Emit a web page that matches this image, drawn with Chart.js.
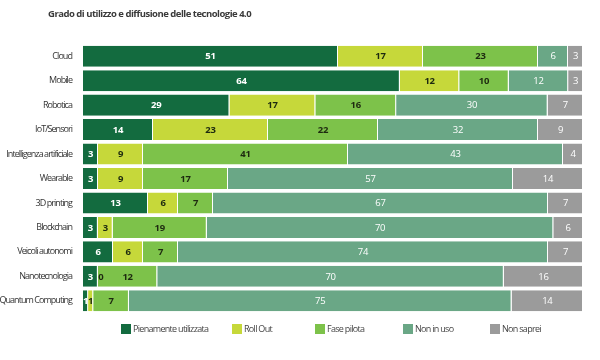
<!DOCTYPE html>
<html><head><meta charset="utf-8">
<script src="https://cdn.jsdelivr.net/npm/chart.js@4"></script>
<style>html,body{margin:0;padding:0;background:#fff}#wrap{position:relative;width:600px;height:360px}</style>
</head><body><div id="wrap"><canvas id="c" width="600" height="360"></canvas></div>
<script>
const categories = ["Cloud","Mobile","Robotica","IoT/Sensori","Intelligenza artificiale","Wearable","3D printing","Blockchain","Veicoli autonomi","Nanotecnologia","Quantum Computing"];
const seriesNames = ["Pienamente utilizzata","Roll Out","Fase pilota","Non in uso","Non saprei"];
const pienamente = [51,64,29,14,3,3,13,3,6,3,1];
const rollOut    = [17,12,17,23,9,9,6,3,6,0,1];
const fasePilota = [23,10,16,22,41,17,7,19,7,12,7];
const nonInUso   = [6,12,30,32,43,57,67,70,74,70,75];
const nonSaprei  = [3,3,7,9,4,14,7,6,7,16,14];
const colors = ["#136b3f","#c6d83a","#7dc24a","#6aa786","#9b9b9b"];
const labelColors = ["#ffffff","#1e2a10","#1e2a10","#ffffff","#ffffff"];
const labelBold = [true,true,true,false,false];
const FONT = '"Open Sans", sans-serif';

const raw = [pienamente,rollOut,fasePilota,nonInUso,nonSaprei];
const totals = categories.map((_,i)=>raw.reduce((s,a)=>s+a[i],0));
const datasets = raw.map((arr,k)=>({
  label: seriesNames[k],
  data: arr.map((v,i)=>v/totals[i]*100),
  rawData: arr,
  backgroundColor: colors[k],
  borderColor: "#ffffff",
  borderWidth: {left:0,right:1,top:0,bottom:0},
  borderSkipped: false,
  barPercentage: 0.86,
  categoryPercentage: 1
}));

const spacingPlugin = {
  id:'spacing',
  beforeDraw(chart){ chart.ctx.letterSpacing='-0.95px'; },
  beforeDatasetsDraw(chart){ chart.ctx.letterSpacing='0px'; }
};
const labelPlugin = {
  id:'segLabels',
  afterDatasetsDraw(chart){
    const ctx = chart.ctx;
    ctx.save();
    ctx.letterSpacing='-0.3px';
    ctx.textAlign='center'; ctx.textBaseline='middle';
    chart.data.datasets.forEach((ds,k)=>{
      const meta = chart.getDatasetMeta(k);
      meta.data.forEach((bar,i)=>{
        const v = ds.rawData[i];
        const x = (bar.x + bar.base)/2;
        ctx.font = (labelBold[k]?'bold ':'')+'9.5px '+FONT;
        ctx.fillStyle = labelColors[k];
        let xx = x;
        if (v===0) xx = bar.base + 3;
        ctx.fillText(String(v), xx, bar.y+0.5);
      });
    });
    ctx.restore();
  }
};
const legendX = [121,232,315,403,490];
const titleLegendPlugin = {
  id:'ttl',
  afterDraw(chart){
    const ctx=chart.ctx; ctx.save();
    ctx.letterSpacing='-0.5px';
    ctx.font='bold 9.5px '+FONT; ctx.fillStyle='#3a3a3a';
    ctx.textAlign='left'; ctx.textBaseline='middle';
    ctx.fillText('Grado di utilizzo e diffusione delle tecnologie 4.0',48,14);
    ctx.letterSpacing='-0.7px';
    ctx.font='9px '+FONT;
    chart.data.datasets.forEach((ds,k)=>{
      ctx.fillStyle=ds.backgroundColor;
      ctx.fillRect(legendX[k],324,10,10);
      ctx.fillStyle='#444';
      ctx.fillText(ds.label,legendX[k]+12,329.5);
    });
    ctx.restore();
  }
};

new Chart(document.getElementById('c'),{
  type:'bar',
  data:{labels:categories,datasets},
  options:{
    indexAxis:'y',
    responsive:false,
    animation:false,
    layout:{padding:{top:44,right:17,left:0,bottom:47}},
    scales:{
      x:{stacked:true,min:0,max:100,display:false},
      y:{stacked:true,grid:{display:false},border:{display:false},
         afterFit(s){s.width=83;},
         ticks:{color:'#333',font:{family:FONT,size:9},padding:3}}
    },
    plugins:{
      legend:{display:false},
      tooltip:{enabled:false}
    }
  },
  plugins:[spacingPlugin,labelPlugin,titleLegendPlugin]
});
</script></body></html>
